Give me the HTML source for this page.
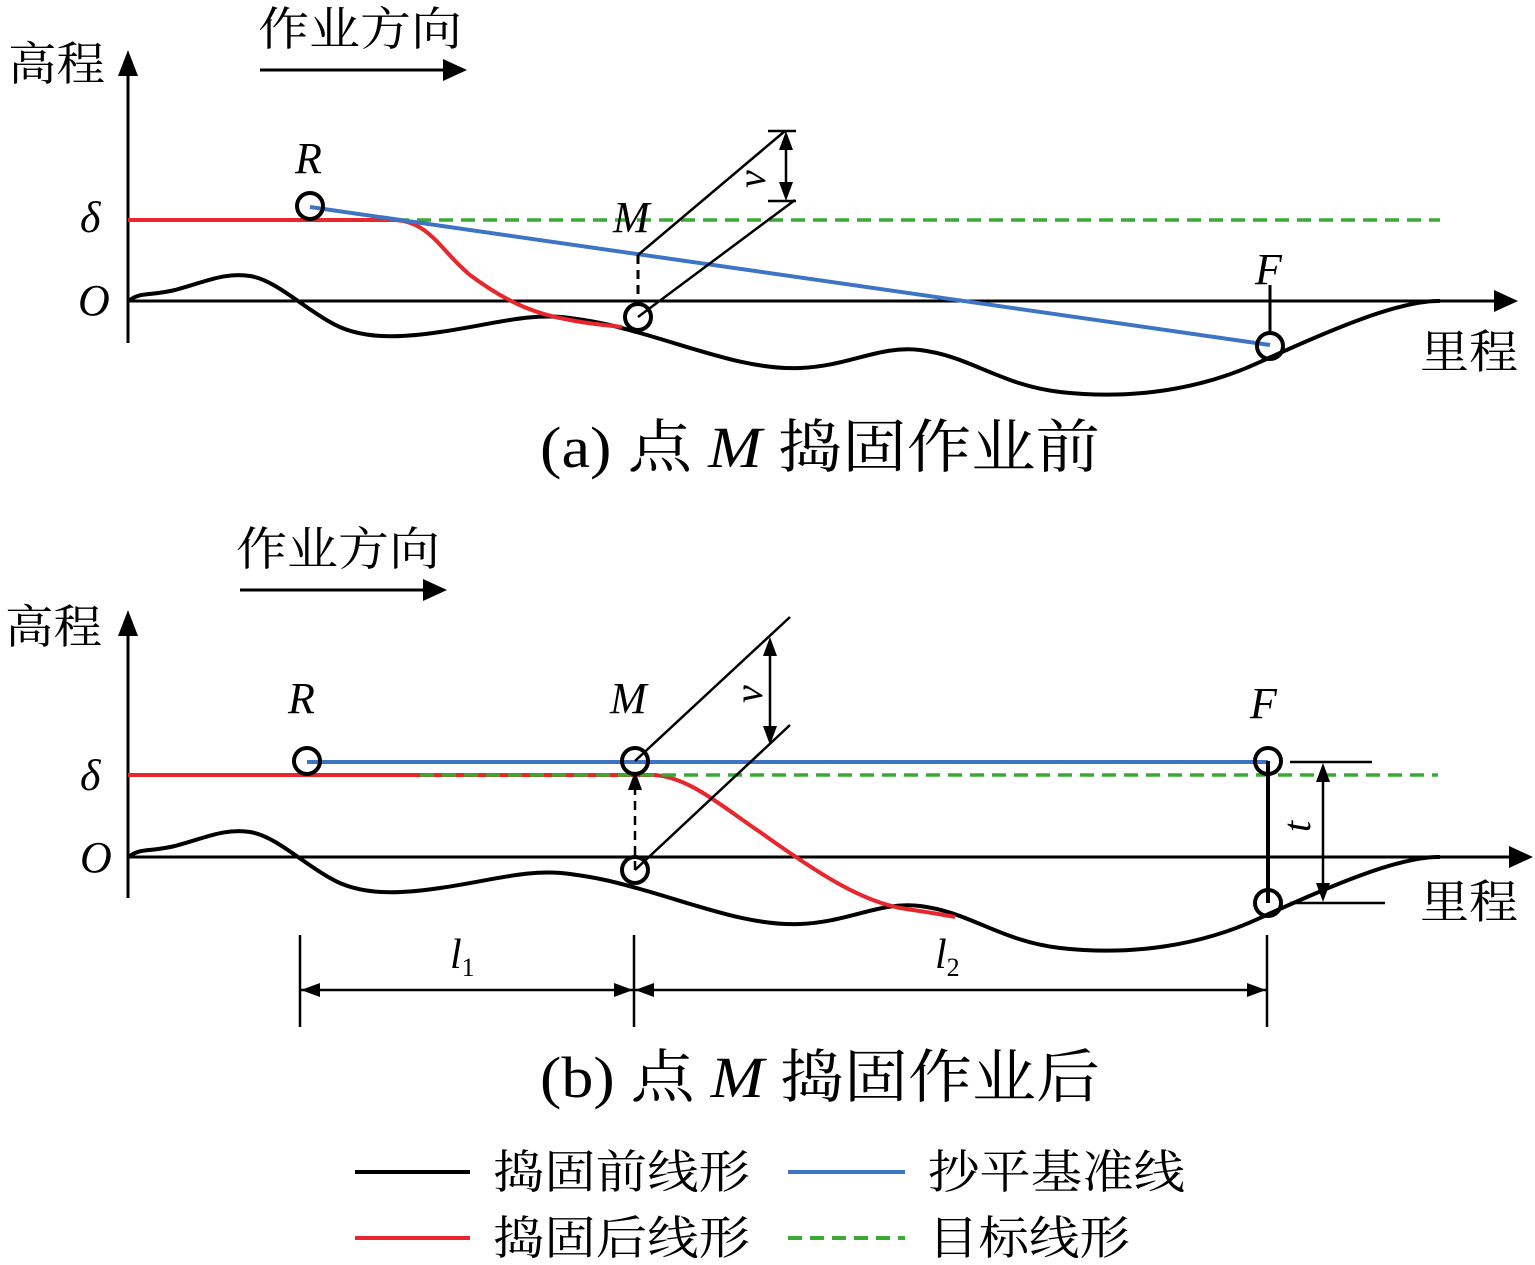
<!DOCTYPE html>
<html><head><meta charset="utf-8">
<style>
html,body{margin:0;padding:0;background:#fff;}
svg{display:block;}
.cjk{font-family:"Liberation Serif","Noto Serif CJK SC","Noto Sans CJK SC",serif;}
.it{font-family:"Liberation Serif",serif;font-style:italic;}
</style></head>
<body>
<svg width="1535" height="1265" viewBox="0 0 1535 1265" xmlns="http://www.w3.org/2000/svg">
<g fill="none" stroke-linecap="butt">
<line x1="128" y1="70" x2="128" y2="343" stroke="#000" stroke-width="3"/>
<path d="M118,76 L128,50 L138,76 z" fill="#000"/>
<line x1="128" y1="301" x2="1500" y2="301" stroke="#000" stroke-width="3"/>
<path d="M1494,290 L1518,301 L1494,312 z" fill="#000"/>
<line x1="260" y1="70" x2="445" y2="70" stroke="#000" stroke-width="3"/>
<path d="M443,59 L467,70 L443,81 z" fill="#000"/>
<path d="M130,300 C140,292 150,296 175,290 C205,282 225,272 250,276 C275,280 300,305 330,322 C360,340 400,338 440,332 C490,325 530,312 570,318 C600,322 615,326 640,333 C700,350 750,370 800,368 C850,366 880,345 920,350 C970,356 1000,385 1060,392 C1130,400 1200,390 1260,362 C1330,330 1400,300 1440,301" stroke="#000" stroke-width="4"/>
<path d="M128,220 L395,220 C430,222 440,250 470,275 C510,305 540,315 570,320 C590,324 605,325 622,327" stroke="#e8262b" stroke-width="4"/>
<line x1="395" y1="220" x2="1440" y2="220" stroke="#3aaa35" stroke-width="3.5" stroke-dasharray="14,8"/>
<line x1="310" y1="207" x2="1270" y2="345" stroke="#3e74c4" stroke-width="4"/>
<line x1="638" y1="255" x2="638" y2="305" stroke="#000" stroke-width="3" stroke-dasharray="9,6"/>
<line x1="638" y1="255" x2="785" y2="131" stroke="#000" stroke-width="2.5"/>
<line x1="638" y1="317" x2="795" y2="200" stroke="#000" stroke-width="2.5"/>
<line x1="768" y1="131" x2="796" y2="131" stroke="#000" stroke-width="2.5"/>
<line x1="768" y1="201" x2="796" y2="201" stroke="#000" stroke-width="2.5"/>
<line x1="786" y1="145" x2="786" y2="187" stroke="#000" stroke-width="2.5"/>
<path d="M779,150 L786,131 L793,150 z M779,182 L786,201 L793,182 z" fill="#000"/>
<line x1="1270" y1="285" x2="1270" y2="334" stroke="#000" stroke-width="3"/>
<circle cx="310" cy="206" r="13" stroke="#000" stroke-width="4" fill="none"/>
<circle cx="638" cy="317" r="13" stroke="#000" stroke-width="4" fill="none"/>
<circle cx="1270" cy="346" r="13" stroke="#000" stroke-width="4" fill="none"/>

<line x1="128" y1="630" x2="128" y2="898" stroke="#000" stroke-width="3"/>
<path d="M118,636 L128,610 L138,636 z" fill="#000"/>
<line x1="128" y1="857" x2="1515" y2="857" stroke="#000" stroke-width="3"/>
<path d="M1509,846 L1533,857 L1509,868 z" fill="#000"/>
<line x1="240" y1="590" x2="425" y2="590" stroke="#000" stroke-width="3"/>
<path d="M423,579 L447,590 L423,601 z" fill="#000"/>
<path d="M130,856 C140,848 150,852 175,846 C205,838 225,828 250,832 C275,836 300,861 330,878 C360,896 400,894 440,888 C490,881 530,868 570,874 C600,878 615,882 640,889 C700,906 750,926 800,924 C850,922 880,901 920,906 C970,912 1000,941 1060,948 C1130,956 1200,946 1260,918 C1330,886 1400,856 1440,857" stroke="#000" stroke-width="4"/>
<path d="M128,775 L655,775 C690,778 720,805 760,832 C820,875 860,900 900,908 C925,912 940,914 955,917" stroke="#e8262b" stroke-width="4"/>
<line x1="420" y1="775" x2="1438" y2="775" stroke="#3aaa35" stroke-width="3.5" stroke-dasharray="14,8"/>
<line x1="307" y1="762" x2="1268" y2="762" stroke="#3e74c4" stroke-width="4"/>
<line x1="635" y1="870" x2="635" y2="790" stroke="#000" stroke-width="2.5" stroke-dasharray="9,6"/>
<path d="M628,790 L635,771 L642,790 z" fill="#000"/>
<line x1="635" y1="761" x2="790" y2="617" stroke="#000" stroke-width="2.5"/>
<line x1="635" y1="870" x2="790" y2="725" stroke="#000" stroke-width="2.5"/>
<line x1="770" y1="651" x2="770" y2="731" stroke="#000" stroke-width="2.5"/>
<path d="M763,656 L770,637 L777,656 z M763,726 L770,745 L777,726 z" fill="#000"/>
<line x1="1268" y1="761" x2="1268" y2="903" stroke="#000" stroke-width="4"/>
<line x1="1290" y1="762" x2="1372" y2="762" stroke="#000" stroke-width="2.5"/>
<line x1="1290" y1="903" x2="1385" y2="903" stroke="#000" stroke-width="2.5"/>
<line x1="1323" y1="780" x2="1323" y2="885" stroke="#000" stroke-width="2.5"/>
<path d="M1316,782 L1323,763 L1330,782 z M1316,883 L1323,902 L1330,883 z" fill="#000"/>
<circle cx="307" cy="761" r="13" stroke="#000" stroke-width="4" fill="none"/>
<circle cx="635" cy="761" r="13" stroke="#000" stroke-width="4" fill="none"/>
<circle cx="1268" cy="761" r="13" stroke="#000" stroke-width="4" fill="none"/>
<circle cx="635" cy="870" r="13" stroke="#000" stroke-width="4" fill="none"/>
<circle cx="1268" cy="903" r="13" stroke="#000" stroke-width="4" fill="none"/>
<line x1="300" y1="935" x2="300" y2="1027" stroke="#000" stroke-width="2.5"/>
<line x1="634" y1="935" x2="634" y2="1027" stroke="#000" stroke-width="2.5"/>
<line x1="1267" y1="935" x2="1267" y2="1027" stroke="#000" stroke-width="2.5"/>
<line x1="300" y1="990" x2="1267" y2="990" stroke="#000" stroke-width="2.5"/>
<path d="M320,983 L301,990 L320,997 z M614,983 L633,990 L614,997 z M654,983 L635,990 L654,997 z M1247,983 L1266,990 L1247,997 z" fill="#000"/>
<line x1="355" y1="1172" x2="470" y2="1172" stroke="#000" stroke-width="4"/>
<line x1="788" y1="1172" x2="905" y2="1172" stroke="#3e74c4" stroke-width="4"/>
<line x1="355" y1="1238" x2="470" y2="1238" stroke="#e8262b" stroke-width="4"/>
<line x1="788" y1="1238" x2="905" y2="1238" stroke="#3aaa35" stroke-width="4" stroke-dasharray="14,8"/>
</g>
<g fill="#000">
<text class="cjk" x="8" y="80" font-size="46" textLength="97" lengthAdjust="spacingAndGlyphs">高程</text>
<text class="cjk" x="258" y="45" font-size="46" textLength="204" lengthAdjust="spacingAndGlyphs">作业方向</text>
<text class="it" x="80" y="232" font-size="44">δ</text>
<text class="it" x="78" y="315" font-size="44">O</text>
<text class="it" x="295" y="173" font-size="44">R</text>
<text class="it" x="613" y="232" font-size="44">M</text>
<text class="it" x="1255" y="284" font-size="44">F</text>
<text class="it" x="0" y="0" font-size="40" transform="translate(765,188) rotate(-90)">v</text>
<text class="cjk" x="1420" y="368" font-size="46" textLength="98" lengthAdjust="spacingAndGlyphs">里程</text>
<text class="cjk" x="540" y="467" font-size="58" textLength="560" lengthAdjust="spacingAndGlyphs">(a) 点 <tspan class="it">M</tspan> 捣固作业前</text>

<text class="cjk" x="5" y="643" font-size="46" textLength="97" lengthAdjust="spacingAndGlyphs">高程</text>
<text class="cjk" x="236" y="565" font-size="46" textLength="204" lengthAdjust="spacingAndGlyphs">作业方向</text>
<text class="it" x="80" y="790" font-size="44">δ</text>
<text class="it" x="80" y="872" font-size="44">O</text>
<text class="it" x="288" y="713" font-size="44">R</text>
<text class="it" x="610" y="713" font-size="44">M</text>
<text class="it" x="1250" y="718" font-size="44">F</text>
<text class="it" x="0" y="0" font-size="40" transform="translate(762,703) rotate(-90)">v</text>
<text class="it" x="0" y="0" font-size="40" transform="translate(1310,832) rotate(-90)">t</text>
<text class="cjk" x="1420" y="918" font-size="46" textLength="98" lengthAdjust="spacingAndGlyphs">里程</text>
<text class="it" x="450" y="968" font-size="42">l<tspan font-size="26" font-style="normal" dy="8">1</tspan></text>
<text class="it" x="935" y="968" font-size="42">l<tspan font-size="26" font-style="normal" dy="8">2</tspan></text>
<text class="cjk" x="540" y="1097" font-size="58" textLength="560" lengthAdjust="spacingAndGlyphs">(b) 点 <tspan class="it">M</tspan> 捣固作业后</text>

<text class="cjk" x="493" y="1188" font-size="46" textLength="257" lengthAdjust="spacingAndGlyphs">捣固前线形</text>
<text class="cjk" x="928" y="1188" font-size="46" textLength="257" lengthAdjust="spacingAndGlyphs">抄平基准线</text>
<text class="cjk" x="493" y="1254" font-size="46" textLength="257" lengthAdjust="spacingAndGlyphs">捣固后线形</text>
<text class="cjk" x="928" y="1254" font-size="46" textLength="202" lengthAdjust="spacingAndGlyphs">目标线形</text>
</g>
</svg>
</body></html>
